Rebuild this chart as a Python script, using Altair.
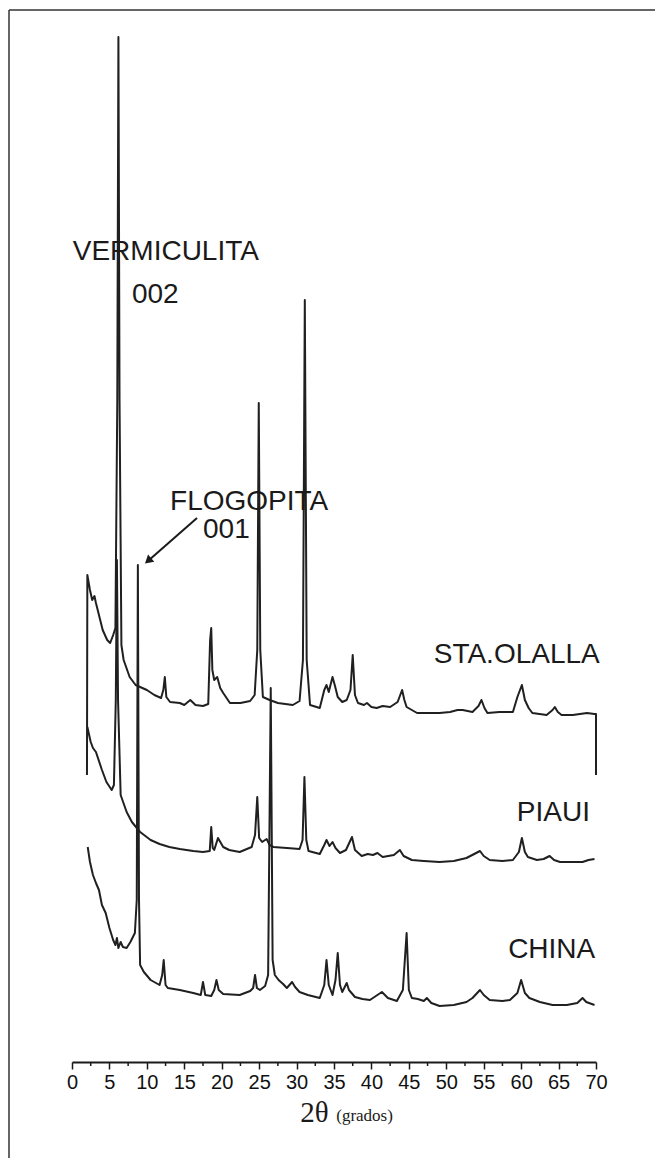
import altair as alt
import pandas as pd

# ---- XRD traces (2theta in degrees, intensity in arbitrary offset units) ----
sta_x = [2.0, 2.05, 2.4, 2.7, 3.0, 3.2, 4.1, 4.7, 5.1, 5.5, 5.8, 6.05, 6.2, 6.35, 6.6, 6.9, 7.7, 8.5,
         10.0, 11.0, 11.9, 12.2, 12.4, 12.6, 13.1, 14.4, 15.0, 15.8, 16.5, 17.5, 18.2, 18.45, 18.6, 18.75,
         19.0, 19.4, 19.8, 20.2, 21.1, 22.5, 23.8, 24.4, 24.75, 24.95, 25.15, 25.5, 26.4, 27.5, 29.5, 30.4,
         30.85, 31.1, 31.35, 31.8, 33.1, 33.7, 34.0, 34.3, 34.8, 35.1, 35.5, 36.1, 36.7, 37.2, 37.5, 37.8,
         38.2, 39.0, 39.4, 40.0, 40.7, 41.5, 42.5, 43.5, 44.1, 44.4, 44.7, 46.1, 47.8, 49.1, 50.5, 51.5,
         52.2, 53.5, 54.3, 54.7, 55.1, 55.5, 57.1, 58.9, 59.5, 60.1, 60.5, 61.0, 61.5, 63.4, 64.2, 64.5,
         64.9, 65.4, 66.9, 68.8, 69.8, 70.0, 70.0]
sta_y = [287, 487, 472, 462, 466, 459, 432, 422, 419, 427, 434, 662, 1025, 662, 417, 402, 385, 377,
         372, 367, 364, 372, 385, 365, 360, 359, 357, 362, 357, 356, 358, 422, 434, 392,
         382, 385, 374, 369, 359, 359, 361, 367, 412, 659, 412, 365, 362, 359, 357, 361,
         402, 762, 402, 357, 354, 372, 377, 370, 385, 377, 365, 360, 362, 372, 407, 367,
         359, 357, 359, 355, 354, 356, 355, 360, 372, 362, 355, 349, 349, 349, 350, 352,
         352, 350, 356, 362, 354, 349, 350, 350, 365, 377, 362, 354, 349, 347, 352, 355,
         350, 347, 347, 349, 348, 348, 287]

piaui_x = [2.05, 2.5, 2.8, 3.2, 4.0, 4.6, 5.3, 5.6, 5.85, 6.0, 6.15, 6.5, 7.3, 8.0, 9.1, 10.5, 11.7,
           13.0, 14.4, 16.2, 17.5, 18.4, 18.6, 18.8, 19.0, 19.5, 20.2, 21.0, 22.4, 24.0, 24.45, 24.75,
           25.0, 25.4, 26.0, 26.4, 26.9, 28.7, 30.4, 30.8, 31.05, 31.3, 31.6, 33.1, 33.7, 34.0, 34.4,
           34.8, 35.2, 35.8, 36.6, 37.4, 37.8, 38.7, 39.5, 40.2, 40.8, 41.5, 43.0, 43.8, 44.3, 45.4,
           47.0, 49.1, 51.0, 52.7, 54.5, 55.0, 55.8, 57.5, 58.9, 59.7, 60.1, 60.5, 60.9, 62.1, 63.0,
           63.8, 64.4, 65.2, 67.0, 68.2, 69.0, 69.8]
piaui_y = [335, 320, 314, 310, 292, 280, 272, 277, 362, 502, 362, 267, 250, 240, 230, 222, 218,
           215, 213, 211, 210, 211, 235, 214, 212, 224, 215, 212, 210, 215, 227, 265,
           224, 220, 223, 217, 215, 214, 213, 222, 285, 222, 211, 208, 217, 222, 216,
           220, 214, 209, 212, 225, 212, 206, 208, 207, 209, 205, 207, 212, 206, 202,
           201, 200, 201, 204, 211, 206, 202, 201, 202, 210, 224, 210, 205, 202, 203,
           206, 202, 200, 200, 200, 202, 203]

china_x = [2.1, 2.4, 2.8, 3.2, 3.6, 4.0, 4.5, 5.0, 5.5, 5.8, 6.0, 6.2, 6.5, 6.8, 7.3, 7.8, 8.4, 8.65,
           8.8, 8.95, 9.1, 9.6, 10.5, 11.7, 12.05, 12.25, 12.5, 12.8, 14.4, 16.2, 17.2, 17.5, 17.8,
           18.6, 19.0, 19.3, 19.6, 20.2, 22.4, 23.8, 24.2, 24.45, 24.7, 25.1, 25.8, 26.2, 26.55, 26.8,
           27.1, 27.6, 28.2, 28.7, 29.4, 29.8, 30.4, 31.5, 33.1, 33.7, 34.0, 34.3, 34.8, 35.2, 35.5,
           35.8, 36.1, 36.7, 37.0, 37.8, 38.8, 39.8, 40.6, 41.4, 42.2, 43.4, 44.2, 44.7, 45.0, 45.4,
           46.2, 47.0, 47.4, 48.0, 49.1, 51.0, 52.7, 53.5, 54.5, 55.0, 55.8, 57.5, 58.5, 59.5, 60.0,
           60.5, 61.1, 62.5, 64.2, 66.1, 67.5, 68.2, 68.7, 69.8]
china_y = [215, 200, 187, 179, 172, 157, 149, 134, 122, 117, 124, 114, 120, 115, 114, 120, 129, 162,
           497, 162, 97, 90, 82, 77, 87, 102, 77, 74, 72, 69, 67, 80, 67,
           66, 72, 82, 72, 68, 67, 71, 74, 87, 74, 72, 76, 87, 374, 102,
           87, 82, 78, 74, 80, 75, 70, 67, 64, 77, 102, 77, 67, 82, 109,
           77, 70, 79, 72, 65, 63, 62, 66, 70, 64, 61, 72, 129, 72, 64,
           63, 61, 64, 59, 56, 57, 60, 64, 72, 67, 62, 61, 62, 69, 82,
           69, 64, 60, 57, 57, 59, 64, 60, 57]

major_ticks = [0, 5, 10, 15, 20, 25, 30, 35, 40, 45, 50, 55, 60, 65, 70]
minor_ticks = [2.5, 7.5, 12.5, 17.5, 22.5, 27.5, 32.5, 37.5, 42.5, 47.5, 52.5, 57.5, 62.5, 67.5]

label_text = ["VERMICULITA", "002", "FLOGOPITA", "001"]
label_x = [0.1, 8.0, 13.1, 17.5]
label_y = [810, 767, 560, 532]

sample_text = ["STA.OLALLA", "PIAUI", "CHINA"]
sample_x = [70.5, 69.2, 69.9]
sample_y = [407, 249, 112]

arrow_x = [16.7, 10.3]
arrow_y = [544, 502]

rows = []
for name, xs, ys in [("STA.OLALLA", sta_x, sta_y), ("PIAUI", piaui_x, piaui_y), ("CHINA", china_x, china_y)]:
    for i, (a, b) in enumerate(zip(xs, ys)):
        rows.append({"sample": name, "theta": a, "intensity": b, "idx": i})
df = pd.DataFrame(rows)

xscale = alt.Scale(domain=[0, 70], nice=False, zero=False)
yscale = alt.Scale(domain=[0, 1030], nice=False, zero=False)

ink = "#1a1a1a"

x_axis = alt.Axis(values=major_ticks, format="d", title=None, grid=False,
                  domainColor=ink, domainWidth=2, tickColor=ink, tickWidth=1.5,
                  tickSize=7, labelFont="Liberation Sans", labelFontSize=20,
                  labelColor="#111", labelPadding=3, labelOverlap=False,
                  labelFlush=False, labelBound=False)


def X(field):
    return alt.X(field, scale=xscale, axis=x_axis)


def Y(field):
    return alt.Y(field, scale=yscale, axis=None)


lines = alt.Chart(df).mark_line(color="#202020", strokeWidth=2.0, strokeJoin="round").encode(
    x=X("theta:Q"),
    y=Y("intensity:Q"),
    detail="sample:N",
    order="idx:Q",
)

minor = alt.Chart(pd.DataFrame({"t": minor_ticks})).mark_rule(color=ink, strokeWidth=1.5).encode(
    x=X("t:Q"), y=alt.value(1030), y2=alt.value(1034)
)

lab_df = pd.DataFrame({"text": label_text, "x": label_x, "y": label_y})
labels = alt.Chart(lab_df).mark_text(align="left", baseline="middle", font="Liberation Sans",
                                     fontSize=28, color=ink).encode(
    x=X("x:Q"), y=Y("y:Q"), text="text:N")

samp_df = pd.DataFrame({"text": sample_text, "x": sample_x, "y": sample_y})
samples = alt.Chart(samp_df).mark_text(align="right", baseline="middle", font="Liberation Sans",
                                       fontSize=28, color=ink).encode(
    x=X("x:Q"), y=Y("y:Q"), text="text:N")

arr_df = pd.DataFrame({"x": arrow_x, "y": arrow_y, "o": [0, 1]})
arrow_line = alt.Chart(arr_df).mark_line(color=ink, strokeWidth=2).encode(
    x=X("x:Q"), y=Y("y:Q"), order="o:Q")
arrow_head = alt.Chart(arr_df.iloc[[1]]).mark_point(shape="triangle", filled=True, color=ink,
                                                    size=90, angle=229, opacity=1).encode(
    x=X("x:Q"), y=Y("y:Q"))

title_df = pd.DataFrame({"x": [30.5], "t": ["2θ"]})
title_main = alt.Chart(title_df).mark_text(align="left", baseline="middle", font="Liberation Serif",
                                           fontSize=29, color=ink).encode(
    x=X("x:Q"), y=alt.value(1081), text="t:N")
title2_df = pd.DataFrame({"x": [35.3], "t": ["(grados)"]})
title_sub = alt.Chart(title2_df).mark_text(align="left", baseline="middle", font="Liberation Serif",
                                           fontSize=17, color=ink).encode(
    x=X("x:Q"), y=alt.value(1084), text="t:N")

frame_df = pd.DataFrame({"a": [0]})
frame_top = alt.Chart(frame_df).mark_rule(color="#333", strokeWidth=1.5).encode(
    x=alt.value(-63), x2=alt.value(583), y=alt.value(-22))
frame_left = alt.Chart(frame_df).mark_rule(color="#333", strokeWidth=1.5).encode(
    x=alt.value(-63), y=alt.value(-22), y2=alt.value(1126))

chart = alt.layer(lines, frame_top, frame_left, minor, arrow_line, arrow_head, labels, samples,
                  title_main, title_sub).properties(
    width=524, height=1030,
    autosize=alt.AutoSizeParams(type="none"),
    padding={"left": 64, "top": 24, "right": 59, "bottom": 96},
    background="white",
).configure_view(stroke=None)

chart.save("out.html", embed_options={"renderer": "svg", "actions": False})
